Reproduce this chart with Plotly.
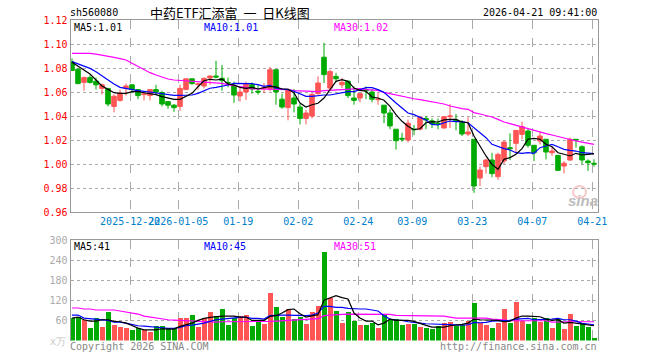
import plotly.graph_objects as go

opens = [1.085,1.079,1.068,1.072,1.069,1.063,1.063,1.048,1.053,1.063,1.066,1.062,1.0578,1.057,1.062,1.0595,1.052,1.049,1.048,1.062,1.071,1.0663,1.065,1.0717,1.0733,1.0714,1.068,1.065,1.0567,1.06,
 1.0661,1.0606,1.063,1.0625,1.0786,1.054,1.047,1.055,1.0475,1.038,1.04,1.0586,1.089,1.0633,1.073,1.066,1.069,1.055,1.055,1.062,1.06,1.0536,1.049,1.0425,1.029,1.0214,1.02,1.029,1.029,1.038,
 1.036,1.034,1.03,1.0394,1.0367,1.0347,1.025,1.0206,0.9883,0.9978,1.0033,0.9894,1.0025,1.0136,1.0172,1.0247,1.0275,1.0156,1.0192,1.0206,1.0094,1.0072,0.9983,1.0033,1.0206,1.0144,1.0025,1.0006]
closes = [1.078,1.067,1.072,1.068,1.066,1.066,1.05,1.0565,1.059,1.065,1.062,1.057,1.0584,1.062,1.06,1.05,1.049,1.047,1.063,1.071,1.067,1.0667,1.0714,1.0733,1.0725,1.0695,1.0677,1.0575,1.06,1.067,
 1.0625,1.06,1.0635,1.0786,1.06,1.0475,1.0614,1.05,1.038,1.0425,1.058,1.0675,1.0745,1.077,1.071,1.068,1.057,1.053,1.0586,1.061,1.054,1.054,1.0425,1.0317,1.0194,1.0208,1.034,1.0286,1.039,1.0367,
 1.0333,1.0333,1.0394,1.04,1.036,1.025,1.0267,0.9817,0.995,1.0033,0.992,1.008,1.0183,1.0128,1.028,1.0311,1.0156,1.0094,1.0233,1.01,1.0108,0.9947,1.0006,1.0206,1.02,1.0033,1.0011,1.0]
highs = [1.088,1.08,1.073,1.074,1.072,1.067,1.063,1.058,1.062,1.067,1.066,1.062,1.0584,1.062,1.066,1.061,1.052,1.05,1.066,1.071,1.071,1.0677,1.072,1.074,1.086,1.0825,1.072,1.0686,1.064,1.0686,
 1.068,1.066,1.0675,1.081,1.0786,1.0586,1.0625,1.0625,1.05,1.045,1.059,1.073,1.101,1.0786,1.076,1.0717,1.069,1.0647,1.0586,1.0647,1.0625,1.059,1.049,1.0456,1.029,1.026,1.037,1.0325,1.039,1.04,
 1.038,1.038,1.04,1.05,1.0417,1.0367,1.039,1.0206,0.998,1.0044,1.0094,1.0094,1.0192,1.0256,1.028,1.0353,1.0294,1.0156,1.0275,1.0206,1.0144,1.0072,1.0025,1.022,1.0206,1.0156,1.0039,1.0039]
lows = [1.078,1.0665,1.061,1.067,1.062,1.058,1.048,1.043,1.052,1.057,1.059,1.054,1.053,1.053,1.0575,1.048,1.046,1.0435,1.0445,1.062,1.066,1.062,1.063,1.066,1.0714,1.061,1.064,1.051,1.052,1.0533,
 1.0586,1.0578,1.059,1.0606,1.0494,1.046,1.0364,1.043,1.033,1.033,1.038,1.058,1.0675,1.0614,1.068,1.0633,1.055,1.0494,1.0514,1.054,1.0514,1.0494,1.034,1.029,1.012,1.0186,1.018,1.024,1.028,1.029,
 1.03,1.029,1.0297,1.03,1.028,1.0233,1.0233,0.976,0.9817,0.992,0.989,0.9867,1.0,1.0033,1.0094,1.0206,1.0136,1.0025,1.0164,1.0039,1.0067,0.9942,0.9922,1.0025,1.0136,0.9997,0.9942,0.9978]

ma5 = [1.0847,1.0817,1.0783,1.075,1.07,1.065,1.0622,1.0594,1.0589,1.0589,1.0603,1.0603,1.0594,1.0589,1.0578,1.0561,1.0547,1.0539,1.0539,1.0561,1.0589,1.0644,1.0694,1.0706,1.07,1.0708,1.0667,1.0658,1.0639,1.0631,
 1.0639,1.0625,1.0633,1.0647,1.0642,1.0625,1.0625,1.0592,1.0508,1.0475,1.0494,1.0506,1.055,1.0619,1.0689,1.0703,1.0689,1.0633,1.0614,1.0606,1.0558,1.055,1.0531,1.0481,1.0411,1.0356,1.0314,1.0286,1.0294,1.0344,
 1.0353,1.035,1.0367,1.0372,1.0372,1.035,1.0344,1.0233,1.015,1.0067,0.9997,0.9956,1.0039,1.0053,1.0081,1.0128,1.0206,1.0214,1.0206,1.0164,1.0144,1.0094,1.0081,1.0067,1.0089,1.0075,1.0081,1.0086]
ma10 = [1.0853,1.0833,1.0819,1.0797,1.0769,1.0733,1.07,1.0667,1.0639,1.063,1.0617,1.0611,1.0606,1.06,1.0594,1.0583,1.0578,1.0572,1.0572,1.0572,1.0575,1.0589,1.0611,1.0631,1.0639,1.0647,1.0658,1.0672,1.0672,1.0672,
 1.0669,1.0661,1.0647,1.0656,1.0633,1.0625,1.0619,1.0606,1.0586,1.0564,1.0564,1.057,1.0575,1.0575,1.0583,1.0597,1.0603,1.0603,1.0619,1.0636,1.0636,1.062,1.0597,1.055,1.0508,1.0467,1.0425,1.0411,1.0386,1.0367,
 1.033,1.0325,1.0344,1.0358,1.0353,1.0353,1.0344,1.0303,1.0261,1.0219,1.0164,1.0144,1.0128,1.0117,1.0094,1.0089,1.0094,1.0089,1.0136,1.015,1.0164,1.0144,1.0122,1.0114,1.0108,1.0094,1.0089,1.0086]
ma30 = [1.0922,1.0922,1.0922,1.0922,1.0915,1.0908,1.09,1.0889,1.0878,1.0867,1.0839,1.0811,1.0783,1.0761,1.0742,1.0722,1.0708,1.07,1.0697,1.0694,1.0689,1.0683,1.0681,1.0678,1.0675,1.0672,1.0661,1.065,1.0644,1.0639,
 1.0625,1.0625,1.0625,1.0625,1.0625,1.0622,1.062,1.0611,1.0608,1.0606,1.0603,1.0603,1.0611,1.0614,1.062,1.0625,1.0625,1.0628,1.0628,1.062,1.062,1.0614,1.0597,1.0586,1.0572,1.0564,1.0553,1.0544,1.0536,1.0528,
 1.0519,1.0508,1.05,1.0483,1.0469,1.0461,1.0456,1.0428,1.0417,1.0406,1.0392,1.0372,1.035,1.0336,1.0322,1.0308,1.0294,1.0275,1.0267,1.0253,1.0242,1.0228,1.0219,1.0206,1.0192,1.0183,1.0172,1.0164]

volumes = [67,70,60,38,68,41,86,47,41,38,32,37,30,26,44,44,35,35,68,68,77,41,68,86,74,95,47,68,74,77,
 44,56,50,143,101,71,95,65,71,50,86,104,263,128,89,53,86,59,47,47,53,38,77,62,65,47,50,50,41,38,
 35,44,53,56,44,47,59,113,53,47,38,53,95,53,116,59,50,68,56,68,38,65,35,80,44,53,41,8]
vol_ma5 = [67,70,62,58,58,62,62,57,56,52,45,37,32,32,32,35,35,34,42,47,52,60,66,69,72,73,73,73,70,70,
 60,60,60,72,74,82,92,94,80,70,74,77,120,127,134,128,124,82,67,58,58,47,52,64,60,60,60,57,50,45,
 40,40,40,44,45,48,52,64,62,62,62,60,56,58,67,73,73,71,71,64,60,62,52,54,52,50,48,44]
vol_ma10 = [76,76,67,65,62,62,60,55,55,52,47,44,43,42,40,38,36,36,39,44,46,48,52,57,62,64,66,69,69,69,
 66,66,64,74,76,76,76,75,74,74,76,82,102,102,99,99,96,94,94,94,92,88,74,64,61,60,56,53,52,50,
 49,49,49,48,46,46,47,54,53,54,58,58,60,60,64,66,66,62,62,62,64,66,62,62,58,51,50,47]
vol_ma30 = [97,97,94,94,91,91,91,91,88,85,82,79,73,70,67,64,62,61,60,60,59,58,57,56,55,56,56,56,55,55,
 55,55,56,57,58,59,60,60,62,64,65,65,74,76,77,78,79,79,79,78,78,78,78,78,75,75,75,75,73,73,
 73,73,73,70,67,67,67,67,67,67,64,64,62,59,59,59,59,59,59,59,55,56,56,56,56,56,56,56]

assert all(len(a) == 88 for a in [opens, closes, highs, lows, ma5, ma10, ma30, volumes, vol_ma5, vol_ma10, vol_ma30])

tick_labels = ["2025-12-22","2026-01-05","01-19","02-02","02-24","03-09","03-23","04-07","04-21"]
tick_index = [10,18,28,38,48,57,67,77,87]
price_ticks = [0.96,0.98,1.00,1.02,1.04,1.06,1.08,1.10,1.12]
vol_ticks = [0,60,120,180,240,300]

W, H = 660, 360
RED = "#FF5555"; GREEN = "#00AA00"; GRID = "#AAAAAA"; BORDER = "#999999"
MONO = "DejaVu Sans Mono"
xs = list(range(len(opens)))
vol_colors = [RED if c >= o else GREEN for o, c in zip(opens, closes)]

fig = go.Figure()
fig.add_trace(go.Candlestick(x=xs, open=opens, high=highs, low=lows, close=closes, xaxis="x", yaxis="y",
    whiskerwidth=0,
    increasing=dict(line=dict(color=RED, width=1), fillcolor=RED),
    decreasing=dict(line=dict(color=GREEN, width=1), fillcolor=GREEN), showlegend=False))
for vals, col in [(ma30, "#FF00FF"), (ma10, "#0000FF"), (ma5, "#000000")]:
    fig.add_trace(go.Scatter(x=xs, y=vals, mode="lines", line=dict(color=col, width=1.2), xaxis="x", yaxis="y", showlegend=False))
fig.add_trace(go.Bar(x=xs, y=volumes, marker=dict(color=vol_colors, line=dict(width=0)), width=0.84, xaxis="x2", yaxis="y2", showlegend=False))
for vals, col in [(vol_ma30, "#FF00FF"), (vol_ma10, "#0000FF"), (vol_ma5, "#000000")]:
    fig.add_trace(go.Scatter(x=xs, y=vals, mode="lines", line=dict(color=col, width=1.2), xaxis="x2", yaxis="y2", showlegend=False))

px_l, px_r = 70.5, 597.5
xr = [(px_l-72)/6, (px_r-72)/6]
grid_x = [i-0.3 for i in tick_index]
xcommon = dict(range=xr, domain=[px_l/W, px_r/W], tickmode="array", tickvals=grid_x, showgrid=True,
               gridcolor=GRID, griddash="dash", gridwidth=1, zeroline=False, showline=True,
               linecolor=BORDER, linewidth=1, fixedrange=True)
def ann(x, y, text, color="#000000", size=10, anchor="left", font=MONO, **kw):
    return dict(xref="paper", yref="paper", x=x/W, y=1-y/H, text=text, showarrow=False, xanchor=anchor,
                yanchor="middle", borderpad=0, borderwidth=0,
                font=dict(family=font, size=size, color=color), **kw)

annotations = [
    ann(70, 12.5, "sh560080", size=10),
    ann(150, 12.5, "中药ETF汇添富\u00a0\u00a0一\u00a0\u00a0日K线图", size=13, font="Noto Sans CJK SC, "+MONO),
    ann(597, 12.5, "2026-04-21 09:41:00", anchor="right"),
    ann(74, 27.5, "MA5:1.01"),
    ann(204, 27.5, "MA10:1.01", color="#0000FF"),
    ann(334, 27.5, "MA30:1.02", color="#FF00FF"),
    ann(74, 246.5, "MA5:41"),
    ann(204, 246.5, "MA10:45", color="#0000FF"),
    ann(334, 246.5, "MA30:51", color="#FF00FF"),
    ann(66, 341, "x万", color="#C8C8C8", anchor="right", size=10),
    ann(70, 346, "Copyright 2026 SINA.COM", color="#888888"),
    ann(597, 346, "http://finance.sina.com.cn", color="#888888", anchor="right"),
    ann(598, 200, "<b><i>sina</i></b>", color="#BDBDBD", anchor="right", size=15, font="Liberation Sans"),
]
shapes = [dict(type="circle", xref="paper", yref="paper", x0=573/W, x1=586/W, y0=1-198/H, y1=1-186/H,
               line=dict(color="#F5C9C9", width=2), fillcolor="rgba(0,0,0,0)", layer="below")]

fig.update_layout(
    width=W, height=H, margin=dict(l=0, r=0, t=0, b=0, pad=0, autoexpand=False), paper_bgcolor="#FFFFFF", plot_bgcolor="#FFFFFF",
    showlegend=False, annotations=annotations, shapes=shapes, bargap=0, boxgap=0.24, boxgroupgap=0,
    xaxis=dict(anchor="y", rangeslider=dict(visible=False), ticktext=tick_labels, tickangle=0, side="bottom",
               ticks="", tickfont=dict(family=MONO, size=10, color="#0080CC"), mirror=True, **xcommon),
    xaxis2=dict(anchor="y2", showticklabels=False, side="top", ticks="", **xcommon),
    yaxis=dict(anchor="x", domain=[1-212/H, 1-20/H], range=[0.96, 1.12], tickmode="array", tickvals=price_ticks,
               ticktext=[f"{t:.2f}" for t in price_ticks], tickfont=dict(family=MONO, size=10, color="#FF0000"),
               showgrid=True, gridcolor=GRID, griddash="dot", gridwidth=1, zeroline=False, showline=True,
               linecolor=BORDER, linewidth=1, mirror=True, fixedrange=True),
    yaxis2=dict(anchor="x2", domain=[1-340.5/H, 1-240/H], range=[0, 300], tickmode="array", tickvals=vol_ticks,
                ticktext=["" if t == 0 else str(t) for t in vol_ticks], tickfont=dict(family=MONO, size=10, color="#AAAAAA"),
                showgrid=True, gridcolor=GRID, griddash="dot", gridwidth=1, zeroline=False, showline=True,
                linecolor=BORDER, linewidth=1, mirror=True, fixedrange=True),
)
fig.write_html("out.html", config=dict(displayModeBar=False),
               post_script="document.body.style.margin='0';document.body.style.overflow='hidden';")
